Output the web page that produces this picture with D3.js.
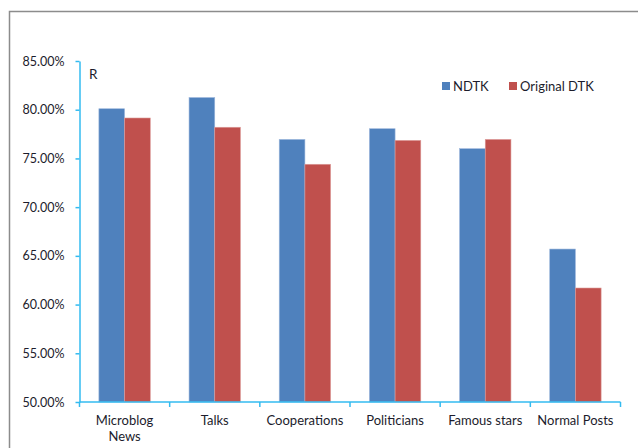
<!DOCTYPE html>
<html>
<head>
<meta charset="utf-8">
<script src="https://cdn.jsdelivr.net/npm/d3@7"></script>
<style>
  html, body { margin: 0; padding: 0; background: #fff; }
  svg { display: block; }
  text { font-family: Lato, "Open Sans", sans-serif; fill: #1c1c2c; }
</style>
</head>
<body>
<svg id="chart" width="638" height="448"></svg>
<script>
// Recall (R) per account category
const categories = [["Microblog", "News"], ["Talks"], ["Cooperations"], ["Politicians"], ["Famous stars"], ["Normal Posts"]];
const seriesNames = ["NDTK", "Original DTK"];
const ndtk = [80.1, 81.25, 76.95, 78.05, 76.0, 65.7];
const originalDtk = [79.15, 78.2, 74.4, 76.85, 76.95, 61.7];
const yTicks = [50, 55, 60, 65, 70, 75, 80, 85];
const colors = ["#4F81BD", "#C0504D"];

const svg = d3.select("#chart");
const margin = { left: 79.5, right: 620.5, top: 61, bottom: 402 };

// Outer chart frame (only top and left edges fall inside the view)
svg.append("rect")
  .attr("x", 9.5).attr("y", 11.5)
  .attr("width", 700).attr("height", 500)
  .attr("fill", "none").attr("stroke", "#8c8c8c").attr("stroke-width", 1.5);

const x = d3.scaleBand()
  .domain(d3.range(categories.length))
  .range([margin.left, margin.right])
  .paddingInner(0.43).paddingOuter(0.215);

const y = d3.scaleLinear().domain([50, 85]).range([margin.bottom, margin.top]);

const inner = d3.scaleBand().domain([0, 1]).range([0, x.bandwidth()]);

const data = categories.map((c, i) => ({ i, values: [ndtk[i], originalDtk[i]] }));

const groups = svg.append("g").selectAll("g").data(data).join("g")
  .attr("transform", d => `translate(${x(d.i)},0)`);

groups.selectAll("rect").data(d => d.values).join("rect")
  .attr("x", (v, j) => inner(j))
  .attr("y", v => y(v))
  .attr("width", inner.bandwidth())
  .attr("height", v => y(50) - y(v))
  .attr("fill", (v, j) => colors[j])
  .attr("stroke", (v, j) => j === 0 ? "#9db7dc" : "#dc9c9a")
  .attr("stroke-width", 0.6);

const axisColor = "#33bbf0";

// Y axis
const yAxis = svg.append("g")
  .attr("transform", `translate(${margin.left},0)`)
  .call(d3.axisLeft(y).tickValues(yTicks).tickSize(4).tickSizeOuter(0).tickPadding(11)
    .tickFormat(d => d.toFixed(2) + "%"));
yAxis.select(".domain").attr("stroke", axisColor).attr("stroke-width", 1.5);
yAxis.selectAll(".tick line").attr("stroke", axisColor).attr("stroke-width", 1.5);
yAxis.selectAll(".tick text").attr("font-size", 12.5).attr("fill", "#1c1c2c")
  .style("font-family", "Lato, 'Open Sans', sans-serif");

// X axis line with ticks at category boundaries
const xAxisG = svg.append("g");
xAxisG.append("line")
  .attr("x1", margin.left).attr("x2", margin.right)
  .attr("y1", margin.bottom).attr("y2", margin.bottom)
  .attr("stroke", axisColor).attr("stroke-width", 1.5);
const boundaries = d3.range(categories.length + 1).map(k => margin.left + k * (margin.right - margin.left) / categories.length);
xAxisG.selectAll("line.tk").data(boundaries).join("line")
  .attr("class", "tk")
  .attr("x1", d => d).attr("x2", d => d)
  .attr("y1", margin.bottom).attr("y2", margin.bottom + 5)
  .attr("stroke", axisColor).attr("stroke-width", 1.5);

// Category labels
const labels = svg.append("g").selectAll("text").data(data).join("text")
  .attr("x", d => x(d.i) + x.bandwidth() / 2)
  .attr("y", 425)
  .attr("text-anchor", "middle")
  .attr("font-size", 13);
labels.selectAll("tspan").data(d => categories[d.i]).join("tspan")
  .attr("x", function () { return this.parentNode.getAttribute("x"); })
  .attr("dy", (t, k) => k === 0 ? 0 : 16)
  .text(t => t);

// Axis title
svg.append("text").attr("x", 89).attr("y", 79).attr("font-size", 13.5).text("R");

// Legend
const legendX = [442, 509];
const legend = svg.append("g").selectAll("g").data(seriesNames).join("g")
  .attr("transform", (d, j) => `translate(${legendX[j]},82)`);
legend.append("rect").attr("width", 8).attr("height", 8).attr("fill", (d, j) => colors[j]);
legend.append("text").attr("x", 11).attr("y", 8.5).attr("font-size", 13).text(d => d);
</script>
</body>
</html>
